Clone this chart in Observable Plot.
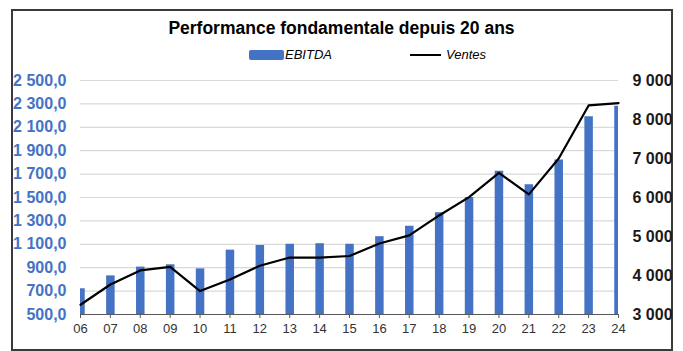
<!DOCTYPE html>
<html>
<head>
<meta charset="utf-8">
<script src="https://cdn.jsdelivr.net/npm/d3@7"></script>
<script src="https://cdn.jsdelivr.net/npm/@observablehq/plot@0.6"></script>
<style>
  html, body { margin: 0; padding: 0; background: #fff; }
  body { width: 683px; height: 351px; position: relative; overflow: hidden; font-family: "Liberation Sans", Arial, sans-serif; }
  #frame { position: absolute; left: 11px; top: 9px; width: 662px; height: 342px; box-sizing: border-box; border: 2px solid #3a3a3a; }
  #title { position: absolute; top: 18px; left: 0; width: 683px; text-align: center; font-weight: bold; font-size: 17.5px; color: #000; }
  #legend { position: absolute; top: 47px; left: 0; width: 683px; height: 16px; font-size: 13px; font-style: italic; color: #000; }
  .sw-bar { position: absolute; left: 249px; top: 3px; width: 35px; height: 10px; background: #4472C4; border-radius: 2px; }
  .sw-line { position: absolute; left: 410px; top: 7px; width: 31px; height: 2px; background: #000; }
  .lab { position: absolute; top: 0px; }
  #chart { position: absolute; left: 0; top: 65px; }
</style>
</head>
<body>
<div id="frame"></div>
<div id="title">Performance fondamentale depuis 20 ans</div>
<div id="legend">
  <div class="sw-bar"></div><span class="lab" style="left:285px">EBITDA</span>
  <div class="sw-line"></div><span class="lab" style="left:446px">Ventes</span>
</div>
<div id="chart"></div>
<script>
const years = ["06","07","08","09","10","11","12","13","14","15","16","17","18","19","20","21","22","23","24"];
const ebitda = [720, 830, 905, 925, 890, 1050, 1090, 1100, 1105, 1100, 1165, 1255, 1370, 1500, 1725, 1610, 1820, 2190, 2280];
const ventes = [3250, 3770, 4130, 4220, 3600, 3900, 4250, 4460, 4460, 4500, 4820, 5030, 5540, 6010, 6630, 6080, 7000, 8360, 8420];
const leftTicks = [500, 700, 900, 1100, 1300, 1500, 1700, 1900, 2100, 2300, 2500];
const rightTicks = [3000, 4000, 5000, 6000, 7000, 8000, 9000];

const leftDomain = [500, 2500];
const rightDomain = [3000, 9000];
const toLeft = v => leftDomain[0] + (v - rightDomain[0]) / (rightDomain[1] - rightDomain[0]) * (leftDomain[1] - leftDomain[0]);
const fromLeft = v => rightDomain[0] + (v - leftDomain[0]) / (leftDomain[1] - leftDomain[0]) * (rightDomain[1] - rightDomain[0]);

const loc = d3.formatLocale({decimal: ",", thousands: "\u00a0", grouping: [3], currency: ["", ""]});
const fmtL = loc.format(",.1f");
const fmtR = loc.format(",.0f");

const data = years.map((y, i) => ({i, year: y, ebitda: ebitda[i], ventes: ventes[i]}));
const idx = years.map((y, i) => i);

const chart = Plot.plot({
  width: 683,
  height: 285,
  marginLeft: 80,
  marginRight: 65,
  marginTop: 15,
  marginBottom: 36,
  style: {fontFamily: "'Liberation Sans', Arial, sans-serif", background: "transparent"},
  x: {type: "linear", domain: [0, years.length - 1]},
  y: {domain: leftDomain},
  marks: [
    Plot.gridY(leftTicks.slice(1), {stroke: "#d9d9d9", strokeOpacity: 1, strokeWidth: 1.2}),
    Plot.ruleX(data, {x: "i", y1: leftDomain[0], y2: "ebitda", stroke: "#4472C4", strokeWidth: 8.5, clip: true}),
    Plot.ruleY([leftDomain[0]], {stroke: "#595959", strokeWidth: 1.2}),
    Plot.line(data, {x: "i", y: d => toLeft(d.ventes), stroke: "#000", strokeWidth: 2.2}),
    Plot.axisX(idx, {tickSize: 4, tickPadding: 5, fontSize: 13, stroke: "#595959", fill: "#333", tickFormat: i => years[i], label: null}),
    Plot.axisY(leftTicks, {anchor: "left", tickSize: 0, tickPadding: 14, fontSize: 16, fontWeight: "bold", fill: "#4472C4", tickFormat: fmtL, label: null}),
    Plot.axisY(rightTicks.map(toLeft), {anchor: "right", tickSize: 0, tickPadding: 14, fontSize: 16, fontWeight: "bold", fill: "#1a1a1a", tickFormat: d => fmtR(Math.round(fromLeft(d))), label: null})
  ]
});
document.getElementById("chart").appendChild(chart);
</script>
</body>
</html>
